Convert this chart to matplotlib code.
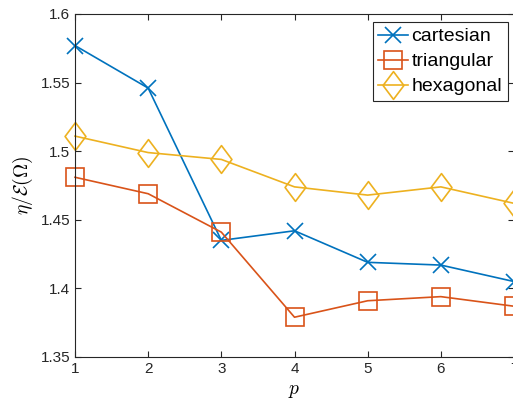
import numpy as np
import matplotlib
matplotlib.use("Agg")
from matplotlib import pyplot as plt
from matplotlib.path import Path

plt.rcParams['font.family'] = ['Liberation Sans', 'DejaVu Sans']
plt.rcParams['mathtext.fontset'] = 'cm'

# data
p = [1, 2, 3, 4, 5, 6, 7]
cartesian = [1.577, 1.546, 1.435, 1.442, 1.419, 1.417, 1.405]
triangular = [1.481, 1.469, 1.441, 1.379, 1.391, 1.394, 1.387]
hexagonal = [1.511, 1.499, 1.494, 1.474, 1.468, 1.474, 1.462]

diamond = Path([(0, 1), (0.75, 0), (0, -1), (-0.75, 0), (0, 1)],
               [Path.MOVETO, Path.LINETO, Path.LINETO, Path.LINETO, Path.CLOSEPOLY])

fig = plt.figure(figsize=(5.13, 4.05), dpi=100)
ax = fig.add_axes([75 / 513, 48 / 405, 439 / 513, 343 / 405])

ax.plot(p, cartesian, color='#0072BD', lw=1.2, marker='x', ms=12, mew=1.2,
        label='cartesian', clip_on=False)
ax.plot(p, triangular, color='#D95319', lw=1.2, marker='s', ms=13, mew=1.2,
        mfc='none', label='triangular', clip_on=False)
ax.plot(p, hexagonal, color='#EDB120', lw=1.2, marker=diamond, ms=20, mew=1.2,
        mfc='none', label='hexagonal', clip_on=False)

ax.set_xlim(1, 7)
ax.set_ylim(1.35, 1.6)
ax.set_xticks(p)
ax.set_yticks([1.35, 1.4, 1.45, 1.5, 1.55, 1.6])
ax.set_yticklabels(['1.35', '1.4', '1.45', '1.5', '1.55', '1.6'])

for s in ax.spines.values():
    s.set_color('#262626')
    s.set_linewidth(0.8)
ax.tick_params(direction='in', top=True, right=True, colors='#262626',
               labelsize=11, length=4, width=0.8)

ax.set_xlabel('$p$', fontsize=14, labelpad=5)
ax.set_ylabel(r'$\eta/\mathcal{E}(\Omega)$', fontsize=14, labelpad=4)

leg = ax.legend(loc='upper right', bbox_to_anchor=(0.986, 0.977), fontsize=14,
                fancybox=False, framealpha=1, edgecolor='#262626',
                handlelength=1.5, handletextpad=0.2, borderpad=0.3,
                labelspacing=0.38, borderaxespad=0)
leg.get_frame().set_linewidth(0.8)

fig.savefig('out.png', dpi=100)
